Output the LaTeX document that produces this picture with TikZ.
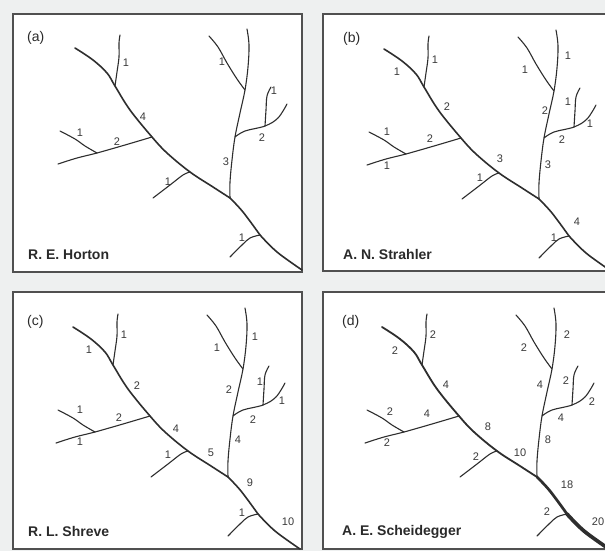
\documentclass[tikz,border=0pt]{standalone}
\usepackage{fontspec}
\setmainfont{Liberation Sans}
\definecolor{linec}{HTML}{2E2E2E}
\definecolor{numc}{HTML}{3A3A3A}
\definecolor{ttlc}{HTML}{2A2A2A}
\definecolor{framec}{HTML}{505050}
\definecolor{bgc}{HTML}{EEF0F0}
\newcommand\rivernet{%
  \coordinate (T0) at (75,48);
  \coordinate (J1) at (115,86);
  \coordinate (J2) at (152,137);
  \coordinate (J3) at (190,172);
  \coordinate (J4) at (230,198);
  \coordinate (J5) at (260,235);
  \coordinate (T1) at (302,270);
  \coordinate (L1) at (97,153);
  \coordinate (R1) at (235,137);
  \coordinate (R2) at (245,90);
  \coordinate (R3) at (265,126);
  \draw[trunkU] plot[smooth, tension=0.6] coordinates {(T0) (93,60) (107,73) (J1) (130,110) (J2) (167,153) (J3) (213,187) (J4)};
  \draw[trunkM] plot[smooth, tension=0.6] coordinates {(J4) (243,212) (J5)};
  \draw[trunkL] plot[smooth, tension=0.6] coordinates {(J5) (277,252) (T1)};
  \draw[trib] plot[smooth, tension=0.6] coordinates {(J1) (117,72) (119,57) (119,43) (120,35)};
  \draw[trib] plot[smooth, tension=0.6] coordinates {(J2) (125,145) (L1) (77,158) (58,164)};
  \draw[trib] plot[smooth, tension=0.6] coordinates {(L1) (85,146) (75,139) (60,131)};
  \draw[trib] plot[smooth, tension=0.6] coordinates {(J3) (183,175) (170,185) (153,198)};
  \draw[trib] plot[smooth, tension=0.6] coordinates {(J4) (230,182) (232,160) (R1) (240,113) (R2) (248,67) (249,45) (247,29)};
  \draw[trib] plot[smooth, tension=0.6] coordinates {(R2) (237,79) (227,63) (218,47) (209,36)};
  \draw[trib] plot[smooth, tension=0.6] coordinates {(R1) (245,131) (R3) (278,118) (287,104)};
  \draw[trib] plot[smooth, tension=0.6] coordinates {(R3) (266,110) (267,96) (271,87)};
  \draw[trib] plot[smooth, tension=0.6] coordinates {(J5) (250,238) (242,245) (230,257)};
}
\newcommand\nl[3]{\node[num] (#1) at (#2) {#3};}
\begin{document}
\begin{tikzpicture}[x=1pt,y=-1pt,
  trib/.style={draw=linec, line width=1.1pt, line cap=round, line join=round},
  trunkU/.style={draw=linec, line width=1.6pt, line cap=round, line join=round},
  trunkM/.style={trunkU},
  trunkL/.style={trunkU},
  num/.style={text=numc, font=\fontsize{11}{11}\selectfont, inner sep=0pt},
  ttl/.style={text=ttlc, font=\bfseries\fontsize{14}{14}\selectfont, inner sep=0pt, anchor=base west},
  plet/.style={text=ttlc, font=\fontsize{14}{14}\selectfont, inner sep=0pt, anchor=base west},
  panel/.style={draw=framec, line width=1.4pt, fill=white}]
\useasboundingbox (0,0) rectangle (605,551);
\fill[bgc] (0,0) rectangle (605,551);
\clip (0,0) rectangle (605,551);
% frames
\draw[panel] (13,14) rectangle (302,272);
\draw[panel] (323,14) rectangle (620,271);
\draw[panel] (13,292) rectangle (302,549);
\draw[panel] (323,292) rectangle (620,549);
% panel (a) Horton
\begin{scope}[name prefix=a-]
  \rivernet
  \nl{n1}{126,63}{1}
  \nl{n2}{143,117}{4}
  \nl{n3}{80,133}{1}
  \nl{n4}{117,142}{2}
  \nl{n5}{168,182}{1}
  \nl{n6}{226,162}{3}
  \nl{n7}{222,62}{1}
  \nl{n8}{274,91}{1}
  \nl{n9}{262,138}{2}
  \nl{n10}{242,238}{1}
\end{scope}
% panel (b) Strahler
\begin{scope}[shift={(309,1)}, name prefix=b-]
  \rivernet
  \nl{n1}{126,59}{1}
  \nl{n2}{88,71}{1}
  \nl{n3}{138,106}{2}
  \nl{n4}{78,131}{1}
  \nl{n5}{121,138}{2}
  \nl{n6}{78,165}{1}
  \nl{n7}{191,158}{3}
  \nl{n8}{171,177}{1}
  \nl{n9}{216,69}{1}
  \nl{n10}{259,55}{1}
  \nl{n11}{236,110}{2}
  \nl{n12}{259,101}{1}
  \nl{n13}{281,123}{1}
  \nl{n14}{253,139}{2}
  \nl{n15}{239,164}{3}
  \nl{n16}{268,221}{4}
  \nl{n17}{245,237}{1}
\end{scope}
% panel (c) Shreve
\begin{scope}[shift={(-2,279)}, name prefix=c-]
  \rivernet
  \nl{n1}{126,56}{1}
  \nl{n2}{91,71}{1}
  \nl{n3}{139,107}{2}
  \nl{n4}{82,131}{1}
  \nl{n5}{121,139}{2}
  \nl{n6}{82,163}{1}
  \nl{n7}{178,150}{4}
  \nl{n8}{170,176}{1}
  \nl{n9}{213,174}{5}
  \nl{n10}{219,69}{1}
  \nl{n11}{257,58}{1}
  \nl{n12}{231,111}{2}
  \nl{n13}{262,103}{1}
  \nl{n14}{284,122}{1}
  \nl{n15}{255,141}{2}
  \nl{n16}{240,161}{4}
  \nl{n17}{252,204}{9}
  \nl{n18}{244,234}{1}
  \nl{n19}{290,243}{10}
\end{scope}
% panel (d) Scheidegger
\begin{scope}[shift={(307,279)}, name prefix=d-,
  trunkU/.style={draw=linec, line width=1.8pt, line cap=round, line join=round},
  trunkM/.style={draw=linec, line width=2.7pt, line cap=round, line join=round},
  trunkL/.style={draw=linec, line width=3.7pt, line cap=round, line join=round}]
  \rivernet
  \nl{n1}{126,56}{2}
  \nl{n2}{88,72}{2}
  \nl{n3}{139,106}{4}
  \nl{n4}{83,133}{2}
  \nl{n5}{120,135}{4}
  \nl{n6}{80,164}{2}
  \nl{n7}{181,148}{8}
  \nl{n8}{169,178}{2}
  \nl{n9}{213,174}{10}
  \nl{n10}{217,69}{2}
  \nl{n11}{260,56}{2}
  \nl{n12}{233,106}{4}
  \nl{n13}{259,102}{2}
  \nl{n14}{285,123}{2}
  \nl{n15}{254,139}{4}
  \nl{n16}{241,161}{8}
  \nl{n17}{260,206}{18}
  \nl{n18}{240,233}{2}
  \nl{n19}{291,243}{20}
\end{scope}
% titles and letters
\node[plet] (la) at (27,42) {(a)};
\node[plet] (lb) at (343,43) {(b)};
\node[plet] (lc) at (27,325) {(c)};
\node[plet] (ld) at (342,325) {(d)};
\node[ttl] (ta) at (28,259) {R. E. Horton};
\node[ttl] (tb) at (343,259) {A. N. Strahler};
\node[ttl] (tc) at (28,536) {R. L. Shreve};
\node[ttl] (td) at (342,535) {A. E. Scheidegger};
\end{tikzpicture}
\end{document}
